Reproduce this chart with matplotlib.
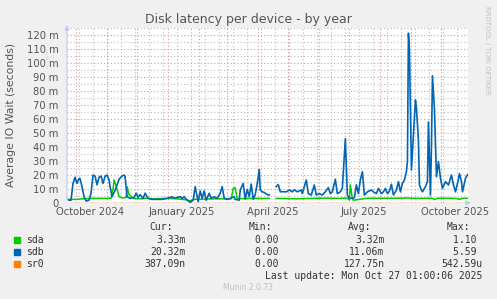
import numpy as np
import matplotlib.pyplot as plt

# munin "by year" view: 400 days ending Oct 27 2025
start = np.datetime64('2024-09-22')
n_days = 400

# sdb (ms); NaN = no data
sdb_day = [2, 4, 6, 8, 10, 12, 13, 15, 17, 19, 22, 24, 26, 28, 30, 32, 34, 36, 38, 40,
           42, 43, 45, 48, 52, 55, 57, 58, 60, 63, 67, 69, 71, 73, 76, 78, 81, 85, 90, 95,
           100, 105, 107, 110, 113, 115, 117, 120, 123, 126, 128, 131, 133, 135, 137, 139,
           142, 144, 147, 150, 153, 155, 157, 160, 163, 167, 168, 172, 173, 176, 178, 180,
           182, 184, 186, 188, 190, 192, 193, 195, 197, 200, 202, 205,
           209, 211, 213, 215, 219, 222, 225, 227, 230, 234, 235, 239, 241, 244, 247, 249,
           252, 255, 258, 261, 263, 265, 268, 270, 273, 275, 278, 280, 282, 285, 287, 289,
           291, 293, 295, 297, 300, 304, 306, 309, 311, 314, 316, 318, 320, 322, 324, 326,
           329, 331, 333, 335, 337, 339, 340, 341, 342, 344, 346, 348, 349, 351, 352, 354,
           355, 358, 360, 361, 363, 364, 365, 367, 369, 371, 373, 375, 378, 381, 384, 386,
           388, 390, 392, 394, 395, 398, 400]
sdb_ms = [2, 2, 14, 18.4, 14, 17.5, 17.5, 11.7, 4.5, 1.4, 2, 7, 20, 19.3, 13, 18.4, 19.3, 14, 19, 20,
          16.5, 11.7, 4.5, 9, 17, 19.3, 20, 19, 4.5, 3.3, 4, 7, 4, 6, 3.3, 7, 3.3, 2.6, 2.6, 2.6,
          3.3, 4.5, 3.3, 4, 4.5, 3.3, 4.5, 2, 0.5, 2, 11.7, 1, 8.6, 3.3, 8.6, 2,
          7, 3.3, 4.5, 3.3, 7, 11.7, 3.3, 2.6, 3.3, 4.5, 2.6, 2, 9.3, 14, 2.6, 9.8,
          4.5, 13.5, 2.6, 6, 14, 24, 9.3, 8, 7.5, 6, 5.7, np.nan,
          11.7, 13.2, 8, 8.1, 8, 9.3, 8, 9.5, 8, 9.3, 6.7, 16.5, 6.7, 5.7, 12.9, 5.7,
          6.7, 5.7, 8, 11, 6.7, 8, 17, 6.7, 8, 10.5, 46, 5.7, 3.4, 3.4, 3.8, 13,
          6.7, 16.5, 22.4, 5.7, 8, 9.3, 8, 6.7, 10.5, 6.7, 8, 10.5, 6.7, 8.4, 13.4, 5.7,
          9.3, 15.3, 8, 14, 16.5, 22.4, 30, 121.5, 110, 23.6, 48, 73.7, 68, 45, 12.9, 9.3,
          8, 11.7, 15.3, 58, 5.7, 41, 91, 67, 18.8, 29.6, 17.7, 10.5, 15.3, 12.9, 20, 12.9,
          8, 14, 21, 15.3, 8, 17.7, 20.3]

sda_day = [0, 10, 15, 25, 40, 44, 46, 47, 50, 52, 56, 59, 60, 62, 66, 75, 80, 85, 100, 110,
           120, 123, 126, 150, 164, 166, 168, 170, 180, 202, 205,
           209, 230, 250, 260, 270, 280, 282, 283, 285, 286, 300, 330, 340, 350, 360, 365,
           367, 370, 380, 390, 392, 395, 400]
sda_ms = [2.6, 2.6, 3.0, 3.3, 3.3, 3.5, 10, 16.5, 10, 4.5, 3.5, 4, 11.7, 6, 3.3, 3, 3.5, 3, 3.3, 3,
          2.2, 1.5, 2.6, 3, 3, 10.5, 11, 3, 3.3, 3.3, np.nan,
          3.3, 3.0, 3.4, 3.5, 3.3, 3.5, 2, 13, 3, 2, 3.4, 3.4, 3.6, 3.3, 3.4, 3.4,
          2.5, 3.4, 3.4, 3.2, 2.5, 3.4, 3.33]

sr0_day = [0, 202, 205, 209, 400]
sr0_ms = [0.0004, 0.0004, np.nan, 0.0004, 0.0004]

quarter_labels = ['October 2024', 'January 2025', 'April 2025', 'July 2025', 'October 2025']
quarter_months = ['2024-10', '2025-01', '2025-04', '2025-07', '2025-10']

legend_names = ['sda', 'sdb', 'sr0']
legend_colors = ['#00cc00', '#0066b3', '#ff8000']
cur_vals = ['3.33m', '20.32m', '387.09n']
min_vals = ['0.00 ', '0.00 ', '0.00 ']
avg_vals = ['3.32m', '11.06m', '127.75n']
max_vals = ['1.10 ', '5.59 ', '542.59u']

W, H = 497, 299
fig = plt.figure(figsize=(W / 100, H / 100), dpi=100, facecolor='#f0f0f0')
ax = fig.add_axes([67 / W, (H - 203) / H, 400.5 / W, (203 - 28.3) / H])
ax.set_facecolor('white')

ax.set_xlim(0, n_days)
ax.set_ylim(0, 125)

# grid: grey minor, red major, both dotted
month_days = (np.arange('2024-10', '2025-11', dtype='datetime64[M]').astype('datetime64[D]') - start).astype(int)
for d in np.arange(12, n_days, 14):
    ax.axvline(d, color='#bdbdbd', lw=0.8, ls=(0, (1, 2)), zorder=1)
for v in np.arange(5, 126, 10):
    ax.axhline(v, color='#bdbdbd', lw=0.8, ls=(0, (1, 2)), zorder=1)
for d in month_days:
    ax.axvline(d, color='#e39494', lw=0.8, ls=(0, (1, 2)), zorder=1)
for v in np.arange(10, 121, 10):
    ax.axhline(v, color='#e39494', lw=0.8, ls=(0, (1, 2)), zorder=1)
ax.axhline(0, color='#e8a0a0', lw=1.0, zorder=1)

ax.plot(sda_day, sda_ms, color=legend_colors[0], lw=1.1, zorder=3)
ax.plot(sdb_day, sdb_ms, color=legend_colors[1], lw=1.2, zorder=4)
ax.plot(sr0_day, sr0_ms, color=legend_colors[2], lw=0.9, alpha=0.5, zorder=5)

for s in ax.spines.values():
    s.set_visible(False)

ax.set_yticks(np.arange(0, 121, 10))
ax.set_yticklabels(['0'] + ['%d m' % v for v in range(10, 121, 10)])
ax.tick_params(axis='y', length=0, pad=6, labelsize=7.2, labelcolor='#555555')
ax.set_xticks([])

# month labels sit in the middle of the first half of the quarter, like rrdtool
for lab, m in zip(quarter_labels, quarter_months):
    d = (np.datetime64(m).astype('datetime64[D]') - start).astype(int) + 14
    ax.text(d, -3.2, lab, ha='center', va='top', fontsize=7.2, color='#555555')

# axis arrows
arrow_c = '#c4cbf2'
ax.annotate('', xy=(0, 1.035), xytext=(0, 0), xycoords='axes fraction',
            arrowprops=dict(arrowstyle='-|>', color=arrow_c, lw=0.9, mutation_scale=7),
            annotation_clip=False)
ax.annotate('', xy=(1.016, 0), xytext=(0.99, 0), xycoords='axes fraction',
            arrowprops=dict(arrowstyle='-|>', color=arrow_c, lw=0.9, mutation_scale=7),
            annotation_clip=False)

def ftext(x, y, s, **kw):
    fig.text(x / W, 1 - y / H, s, **kw)

ftext(248.5, 19, 'Disk latency per device - by year', ha='center', va='center',
      fontsize=9, color='#555555')
ftext(11, 115, 'Average IO Wait (seconds)', ha='center', va='center', rotation=90,
      fontsize=7.8, color='#555555')
ftext(487, 6, 'RRDTOOL / TOBI OETIKER', ha='center', va='top', rotation=270,
      fontsize=5, color='#c0c0c0')

mono = dict(family='DejaVu Sans Mono', fontsize=7, color='#333333', va='center')
ftext(172.5, 227.5, 'Cur:', ha='right', **mono)
ftext(272.5, 227.5, 'Min:', ha='right', **mono)
ftext(371, 227.5, 'Avg:', ha='right', **mono)
ftext(470, 227.5, 'Max:', ha='right', **mono)
for i in range(3):
    y = 240 + i * 11.8
    fig.patches.append(plt.Rectangle((14 / W, 1 - (y + 3) / H), 6 / W, 6 / H,
                                     transform=fig.transFigure, color=legend_colors[i]))
    ftext(26, y, legend_names[i], ha='left', **mono)
    ftext(185.5, y, cur_vals[i], ha='right', **mono)
    ftext(284, y, min_vals[i], ha='right', **mono)
    ftext(384.5, y, avg_vals[i], ha='right', **mono)
    ftext(482.5, y, max_vals[i], ha='right', **mono)
ftext(482.5, 275.7, 'Last update: Mon Oct 27 01:00:06 2025', ha='right', **mono)
ftext(248, 288, 'Munin 2.0.73', ha='center', va='center', fontsize=5.5, color='#c0c0c0')

fig.savefig('out.png', dpi=100, facecolor=fig.get_facecolor())
